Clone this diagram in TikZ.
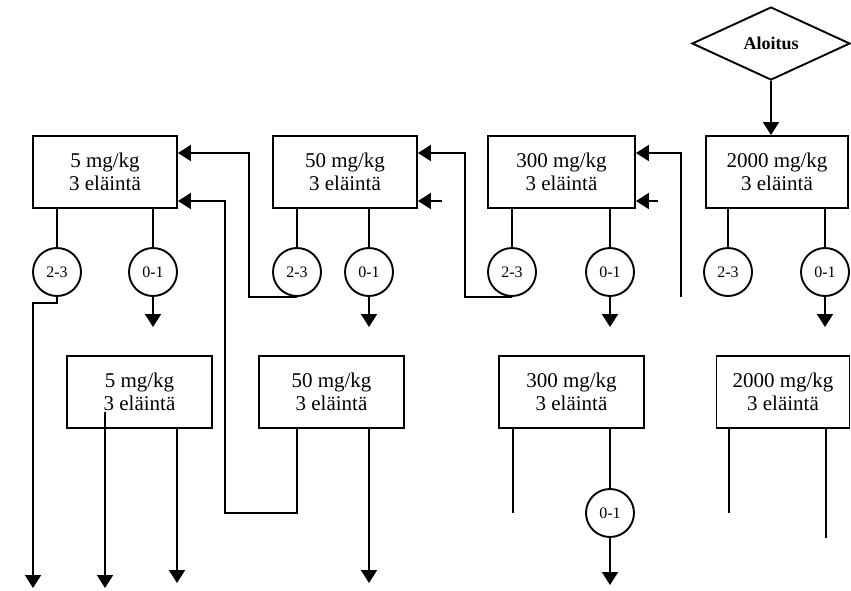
\documentclass[tikz,border=0pt]{standalone}
\usepackage{fontspec}
\setmainfont{Liberation Serif}
\usetikzlibrary{arrows.meta,shapes.geometric}
\begin{document}
\begin{tikzpicture}[x=1pt,y=-1pt,line width=1.9pt,
  box/.style={draw,rectangle,minimum width=144pt,minimum height=72pt,align=center,
    inner sep=0pt,font=\fontsize{21}{23}\selectfont},
  ring/.style={draw,circle,minimum size=48pt,inner sep=0pt,font=\fontsize{16}{16}\selectfont},
  start/.style={draw,diamond,minimum width=158pt,minimum height=73pt,inner sep=0pt,
    font=\fontsize{18}{18}\selectfont\bfseries},
  arr/.style={-{Triangle[length=13pt,width=16pt]}}]
\useasboundingbox (0,0) rectangle (851,590);

% start
\node[start] (dia) at (771,43.5) {Aloitus};

% top row
\node[box] (b1) at (105,172) {5 mg/kg\\3 eläintä};
\node[box] (b2) at (345,172) {50 mg/kg\\3 eläintä};
\node[box,minimum width=147pt] (b3) at (561.5,172) {300 mg/kg\\3 eläintä};
\node[box,minimum width=142pt] (b4) at (777,172) {2000 mg/kg\\3 eläintä};

% lower row
\node[box,minimum width=145pt] (b5) at (139.5,392) {5 mg/kg\\3 eläintä};
\node[box,minimum width=145pt] (b6) at (331.5,392) {50 mg/kg\\3 eläintä};
\node[box,minimum width=145pt] (b7) at (571.5,392) {300 mg/kg\\3 eläintä};
\node[box,minimum width=133pt] (b8) at (783,392) {2000 mg/kg\\3 eläintä};

% circles
\node[ring] (c1a) at (57,272) {2-3};
\node[ring] (c1b) at (153,272) {0-1};
\node[ring] (c2a) at (297,272) {2-3};
\node[ring] (c2b) at (369,272) {0-1};
\node[ring] (c3a) at (512,272) {2-3};
\node[ring] (c3b) at (610,272) {0-1};
\node[ring] (c4a) at (728,272) {2-3};
\node[ring] (c4b) at (825,272) {0-1};
\node[ring] (c7b) at (610,513) {0-1};

% coordinates
\coordinate (e1b) at (153,327);
\coordinate (e2b) at (369,327);
\coordinate (e3b) at (610,327);
\coordinate (e4b) at (825,327);
\coordinate (k1) at (57,303);
\coordinate (k1b) at (33,303);
\coordinate (e1a) at (33,588);
\coordinate (f1) at (249,297);
\coordinate (f1t) at (249,153);
\coordinate (g1) at (297,513);
\coordinate (g2) at (225,513);
\coordinate (g3) at (225,201);
\coordinate (f3) at (465,297);
\coordinate (f3t) at (465,153);
\coordinate (s2) at (442,201);
\coordinate (s3) at (658,201);
\coordinate (h1) at (681,297);
\coordinate (h1t) at (681,153);
\coordinate (p5a) at (105,412);
\coordinate (e5a) at (105,588);
\coordinate (e5b) at (177,583);
\coordinate (e6b) at (369,583);
\coordinate (e7a) at (513,513);
\coordinate (e7b) at (610,585);
\coordinate (e8a) at (729,513);
\coordinate (e8b) at (826,538);

% start arrow
\draw[arr] (dia.south) -- (dia.south |- b4.north);

% boxes to circles
\draw (c1a |- b1.south) -- (c1a);
\draw (c1b |- b1.south) -- (c1b);
\draw (c2a |- b2.south) -- (c2a);
\draw (c2b |- b2.south) -- (c2b);
\draw (c3a |- b3.south) -- (c3a);
\draw (c3b |- b3.south) -- (c3b);
\draw (c4a |- b4.south) -- (c4a);
\draw (c4b |- b4.south) -- (c4b);

% 0-1 outputs
\draw[arr] (c1b) -- (e1b);
\draw[arr] (c2b) -- (e2b);
\draw[arr] (c3b) -- (e3b);
\draw[arr] (c4b) -- (e4b);

% 2-3 of 5 mg/kg
\draw[arr] (c1a.south) -- (k1) -- (k1b) -- (e1a);

% feedback loops
\draw[arr] (c2a.south) -- (f1) -- (f1t) -- (b1.east |- f1t);
\draw[arr] (b6.south -| g1) -- (g1) -- (g2) -- (g3) -- (b1.east |- g3);
\draw[arr] (c3a.south) -- (f3) -- (f3t) -- (b2.east |- f3t);
\draw[arr] (s2) -- (b2.east |- s2);
\draw[arr] (h1) -- (h1t) -- (b3.east |- h1t);
\draw[arr] (s3) -- (b3.east |- s3);

% lower row outputs
\draw[arr] (p5a) -- (e5a);
\draw[arr] (b5.south -| e5b) -- (e5b);
\draw[arr] (b6.south -| e6b) -- (e6b);
\draw (b7.south -| e7a) -- (e7a);
\draw (b7.south -| c7b) -- (c7b);
\draw[arr] (c7b) -- (e7b);
\draw (b8.south -| e8a) -- (e8a);
\draw (b8.south -| e8b) -- (e8b);
\end{tikzpicture}
\end{document}
